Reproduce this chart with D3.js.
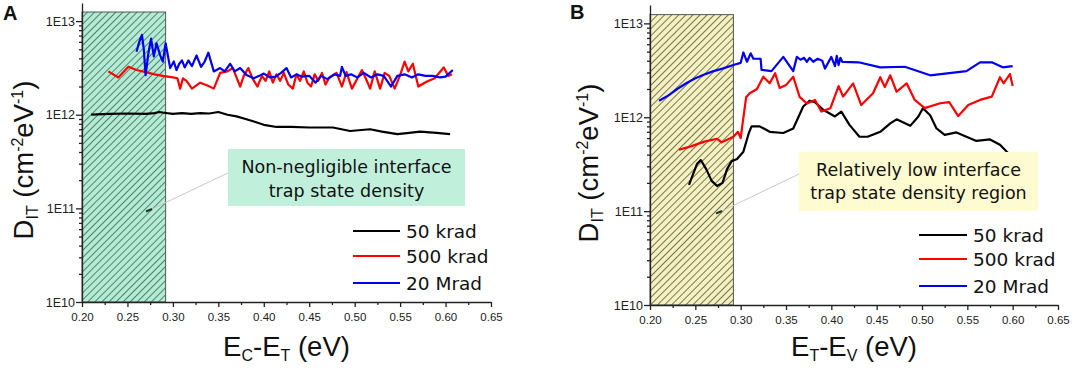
<!DOCTYPE html>
<html><head><meta charset="utf-8">
<script src="https://cdn.jsdelivr.net/npm/d3@7"></script>
<style>body{margin:0;background:#fff}svg{display:block}</style>
</head><body><svg id="c" width="1072" height="368"></svg>
<script>
// ---------------- data ----------------
const xTicks = [0.20,0.25,0.30,0.35,0.40,0.45,0.50,0.55,0.60,0.65];
const yTicks = [1e10,1e11,1e12,1e13];
const seriesNames = ["50 krad","500 krad","20 Mrad"];
const seriesColors = ["#000000","#ff0000","#0000ee"];
const hatchRange = [0.20, 0.292];

// Panel A: E_C - E_T
const a50krad = [[0.21,1.0e12],[0.23,1.02e12],[0.25,1.03e12],[0.27,1.02e12],[0.28,1.04e12],[0.285,1.07e12],[0.29,1.05e12],[0.30,1.02e12],[0.31,1.04e12],[0.32,1.02e12],[0.33,1.04e12],[0.34,1.03e12],[0.35,1.07e12],[0.36,1.0e12],[0.37,0.96e12],[0.38,0.9e12],[0.39,0.84e12],[0.40,0.78e12],[0.414,0.74e12],[0.43,0.74e12],[0.45,0.73e12],[0.476,0.73e12],[0.495,0.67e12],[0.517,0.70e12],[0.53,0.66e12],[0.547,0.62e12],[0.56,0.64e12],[0.572,0.66e12],[0.59,0.64e12],[0.605,0.62e12]];
const a500krad = [[0.229,2.9e12],[0.24,2.5e12],[0.251,3.25e12],[0.26,3.0e12],[0.27,2.85e12],[0.28,2.7e12],[0.289,2.6e12],[0.30,2.5e12],[0.305,2.45e12],[0.308,1.9e12],[0.311,2.45e12],[0.315,2.3e12],[0.321,1.9e12],[0.33,2.2e12],[0.338,2.05e12],[0.345,1.9e12],[0.352,2.8e12],[0.36,2.9e12],[0.366,3.15e12],[0.374,2.0e12],[0.378,2.6e12],[0.383,3.15e12],[0.388,2.4e12],[0.393,2.0e12],[0.398,2.6e12],[0.402,2.3e12],[0.406,2.9e12],[0.41,2.2e12],[0.414,2.7e12],[0.418,2.3e12],[0.422,2.8e12],[0.427,2.1e12],[0.432,1.9e12],[0.436,2.7e12],[0.44,2.3e12],[0.444,2.9e12],[0.448,2.2e12],[0.452,2.0e12],[0.456,2.7e12],[0.46,2.3e12],[0.464,2.8e12],[0.468,2.1e12],[0.472,2.5e12],[0.48,2.8e12],[0.486,2.0e12],[0.491,2.85e12],[0.497,1.9e12],[0.508,3.0e12],[0.513,2.35e12],[0.517,1.9e12],[0.522,2.9e12],[0.528,1.9e12],[0.533,2.8e12],[0.538,2.6e12],[0.544,1.9e12],[0.55,2.65e12],[0.555,3.7e12],[0.559,2.9e12],[0.564,3.5e12],[0.57,2.0e12],[0.579,2.25e12],[0.588,2.45e12],[0.598,3.2e12],[0.603,2.6e12],[0.607,2.7e12]];
const a20Mrad = [[0.26,4.7e12],[0.263,6.0e12],[0.266,7.1e12],[0.268,5.0e12],[0.27,2.65e12],[0.273,4.5e12],[0.276,6.5e12],[0.279,4.2e12],[0.282,5.8e12],[0.286,4.3e12],[0.289,3.7e12],[0.292,5.8e12],[0.297,3.15e12],[0.301,3.7e12],[0.304,3.0e12],[0.307,3.5e12],[0.31,3.8e12],[0.313,3.2e12],[0.317,3.8e12],[0.321,3.3e12],[0.326,4.3e12],[0.331,3.25e12],[0.335,3.7e12],[0.339,4.6e12],[0.345,2.9e12],[0.352,3.15e12],[0.357,2.9e12],[0.363,3.5e12],[0.368,2.9e12],[0.374,3.15e12],[0.381,2.65e12],[0.389,2.45e12],[0.395,2.6e12],[0.40,2.75e12],[0.407,2.5e12],[0.413,2.55e12],[0.419,2.8e12],[0.425,3.15e12],[0.43,2.5e12],[0.436,2.7e12],[0.442,2.55e12],[0.45,2.6e12],[0.457,2.2e12],[0.463,2.6e12],[0.47,2.4e12],[0.478,2.7e12],[0.484,2.6e12],[0.486,3.25e12],[0.49,2.6e12],[0.496,2.7e12],[0.503,2.5e12],[0.51,2.8e12],[0.518,2.5e12],[0.525,2.7e12],[0.532,2.6e12],[0.54,2.0e12],[0.547,2.6e12],[0.555,2.7e12],[0.563,2.5e12],[0.57,2.7e12],[0.578,2.6e12],[0.586,2.6e12],[0.594,2.5e12],[0.60,2.55e12],[0.608,3.0e12]];

// Panel B: E_T - E_V
const b50krad = [[0.243,1.9e11],[0.247,2.4e11],[0.252,3.2e11],[0.256,3.5e11],[0.262,2.8e11],[0.268,2.1e11],[0.274,1.85e11],[0.28,2.0e11],[0.285,2.8e11],[0.29,3.4e11],[0.296,3.6e11],[0.303,4.3e11],[0.309,6.8e11],[0.312,8.0e11],[0.321,8.0e11],[0.332,7.0e11],[0.347,6.8e11],[0.358,7.6e11],[0.369,1.3e12],[0.376,1.5e12],[0.382,1.45e12],[0.391,1.2e12],[0.404,1.02e12],[0.411,1.15e12],[0.42,8.3e11],[0.431,6.2e11],[0.44,6.2e11],[0.454,7.0e11],[0.465,8.6e11],[0.472,9.5e11],[0.487,8.1e11],[0.496,1.02e12],[0.501,1.25e12],[0.509,1.05e12],[0.516,7.6e11],[0.525,6.5e11],[0.538,6.9e11],[0.549,6.2e11],[0.56,5.6e11],[0.575,5.8e11],[0.586,5.1e11],[0.60,3.7e11]];
const b500krad = [[0.232,4.5e11],[0.245,4.9e11],[0.26,5.5e11],[0.274,5.9e11],[0.279,5.4e11],[0.292,6.2e11],[0.297,7.0e11],[0.30,6.0e11],[0.306,1.63e12],[0.31,1.8e12],[0.318,2.0e12],[0.325,2.7e12],[0.332,2.3e12],[0.338,2.95e12],[0.343,2.05e12],[0.35,2.2e12],[0.358,2.7e12],[0.365,1.65e12],[0.373,1.4e12],[0.382,1.53e12],[0.389,1.15e12],[0.399,1.25e12],[0.408,2.15e12],[0.413,1.66e12],[0.424,2.3e12],[0.433,1.35e12],[0.446,1.8e12],[0.454,2.67e12],[0.459,2.1e12],[0.465,2.8e12],[0.472,1.87e12],[0.483,2.3e12],[0.492,1.53e12],[0.503,1.25e12],[0.52,1.41e12],[0.53,1.45e12],[0.54,1.03e12],[0.551,1.35e12],[0.564,1.53e12],[0.577,1.66e12],[0.586,2.67e12],[0.59,2.3e12],[0.597,2.89e12],[0.60,2.15e12]];
const b20Mrad = [[0.21,1.5e12],[0.22,1.7e12],[0.23,2.0e12],[0.24,2.3e12],[0.25,2.6e12],[0.26,2.85e12],[0.27,3.1e12],[0.28,3.3e12],[0.292,3.6e12],[0.30,3.8e12],[0.303,4.9e12],[0.307,3.9e12],[0.311,4.8e12],[0.314,4.2e12],[0.322,4.2e12],[0.323,3.2e12],[0.334,3.1e12],[0.347,4.4e12],[0.358,3.1e12],[0.362,4.4e12],[0.366,4.1e12],[0.37,4.3e12],[0.373,3.9e12],[0.376,4.3e12],[0.38,3.9e12],[0.385,4.2e12],[0.39,4.0e12],[0.393,3.3e12],[0.40,4.4e12],[0.404,3.5e12],[0.406,4.5e12],[0.408,3.6e12],[0.41,4.3e12],[0.412,3.9e12],[0.43,3.85e12],[0.454,3.4e12],[0.481,3.45e12],[0.509,2.8e12],[0.549,3.1e12],[0.564,3.85e12],[0.577,3.85e12],[0.589,3.4e12],[0.60,3.5e12]];

const calloutA = ["Non-negligible interface","trap state density"];
const calloutB = ["Relatively low interface","trap state density region"];

// ---------------- drawing ----------------
const svg = d3.select("#c");
const defs = svg.append("defs");
function hatch(id, fill, stroke){
  const p = defs.append("pattern").attr("id",id).attr("patternUnits","userSpaceOnUse")
    .attr("width",5).attr("height",5).attr("patternTransform","rotate(45)");
  p.append("rect").attr("width",5).attr("height",5).attr("fill",fill);
  p.append("line").attr("x1",0).attr("y1",0).attr("x2",0).attr("y2",5).attr("stroke",stroke).attr("stroke-width",1.6);
}
hatch("hA","#b5ead5","#2f6b56");
hatch("hB","#f5f1c3","#55552e");

function panel(cfg){
  const g = svg.append("g");
  const x = d3.scaleLinear().domain([0.2,0.65]).range([cfg.x0,cfg.x1]);
  const y = d3.scaleLog().domain([1e10,cfg.ytop]).range([cfg.yb,cfg.yt]);

  // hatched region
  g.append("rect").attr("x",x(hatchRange[0])).attr("width",x(hatchRange[1])-x(hatchRange[0]))
    .attr("y",y(cfg.htop)).attr("height",y(1e10)-y(cfg.htop))
    .attr("fill","url(#"+cfg.hatch+")").attr("stroke","#555").attr("stroke-width",1);

  // axes
  const minors = [];
  for(let e=10;e<=13;e++) for(let m=2;m<=9;m++){const v=m*Math.pow(10,e); if(v<cfg.ytop) minors.push(v);}
  const yMinor = g.append("g").attr("transform",`translate(${cfg.x0},0)`)
    .call(d3.axisLeft(y).tickValues(minors).tickSize(3).tickFormat("").tickSizeOuter(0));
  yMinor.select(".domain").remove();
  const yAx = g.append("g").attr("transform",`translate(${cfg.x0},0)`)
    .call(d3.axisLeft(y).tickValues(yTicks).tickSize(6).tickPadding(1).tickSizeOuter(0)
      .tickFormat(d=>"1E"+Math.round(Math.log10(d))));
  yAx.selectAll("text").attr("font-family","Liberation Sans, Arial, sans-serif").attr("font-size",12.5).attr("fill","#222");
  const xMinor = d3.range(0.225,0.65,0.05);
  const xm = g.append("g").attr("transform",`translate(0,${cfg.yb})`)
    .call(d3.axisBottom(x).tickValues(xMinor).tickSize(3).tickFormat("").tickSizeOuter(0));
  xm.select(".domain").remove();
  const xAx = g.append("g").attr("transform",`translate(0,${cfg.yb})`)
    .call(d3.axisBottom(x).tickValues(xTicks).tickSize(5).tickPadding(6).tickSizeOuter(0).tickFormat(d3.format(".2f")));
  xAx.selectAll("text").attr("font-family","Liberation Sans, Arial, sans-serif").attr("font-size",11.5).attr("fill","#222");
  g.selectAll(".domain, .tick line").attr("stroke","#222").attr("stroke-width",1.3);

  // curves
  const line = d3.line().x(d=>x(d[0])).y(d=>y(d[1]));
  cfg.series.forEach((s,i)=>{
    g.append("path").datum(s).attr("d",line).attr("fill","none")
      .attr("stroke",seriesColors[i]).attr("stroke-width",2.2).attr("stroke-linejoin","round");
  });

  // callout pointer
  g.append("line").attr("x1",cfg.cb[0]).attr("y1",cfg.ptr[1]).attr("x2",cfg.ptr[0]).attr("y2",cfg.ptr[2])
    .attr("stroke","#c8c8c8").attr("stroke-width",1);
  g.append("line").attr("x1",cfg.ptr[0]-6).attr("y1",cfg.ptr[2]+2.5).attr("x2",cfg.ptr[0]).attr("y2",cfg.ptr[2])
    .attr("stroke","#1a3a2a").attr("stroke-width",2);

  // callout box
  g.append("rect").attr("x",cfg.cb[0]).attr("y",cfg.cb[1]).attr("width",cfg.cb[2]-cfg.cb[0]).attr("height",cfg.cb[3]-cfg.cb[1])
    .attr("fill",cfg.cfill);
  cfg.ctext.forEach((t,i)=>{
    g.append("text").attr("x",(cfg.cb[0]+cfg.cb[2])/2).attr("y",cfg.cbase[i]).attr("text-anchor","middle")
      .attr("font-family","DejaVu Sans, Verdana, sans-serif").attr("font-size",17.5).attr("fill","#111").text(t);
  });

  // legend
  seriesNames.forEach((n,i)=>{
    const ly = cfg.leg[2][i];
    g.append("line").attr("x1",cfg.leg[0]).attr("x2",cfg.leg[1]).attr("y1",ly).attr("y2",ly)
      .attr("stroke",seriesColors[i]).attr("stroke-width",2);
    g.append("text").attr("x",cfg.leg[1]+6).attr("y",ly).attr("dy","0.36em")
      .attr("font-family","DejaVu Sans, Verdana, sans-serif").attr("font-size",18.5).attr("fill","#111").text(n);
  });

  // axis titles
  const xt = g.append("text").attr("x",(cfg.x0+cfg.x1)/2).attr("y",356).attr("text-anchor","middle")
    .attr("font-family","Liberation Sans, Arial, sans-serif").attr("font-size",27.5).attr("fill","#111");
  xt.append("tspan").text("E");
  xt.append("tspan").attr("font-size",16).attr("baseline-shift","-30%").text(cfg.xsub[0]);
  xt.append("tspan").text("-E");
  xt.append("tspan").attr("font-size",16).attr("baseline-shift","-30%").text(cfg.xsub[1]);
  xt.append("tspan").text(" (eV)");

  const yt = g.append("text").attr("transform",`translate(${cfg.ytx},${cfg.yty}) rotate(-90)`).attr("text-anchor","middle")
    .attr("font-family","Liberation Sans, Arial, sans-serif").attr("font-size",27.5).attr("fill","#111");
  yt.append("tspan").text("D");
  yt.append("tspan").attr("font-size",16).attr("baseline-shift","-30%").text("IT");
  yt.append("tspan").text(" (cm");
  yt.append("tspan").attr("font-size",16).attr("baseline-shift","60%").text("-2");
  yt.append("tspan").text("eV");
  yt.append("tspan").attr("font-size",16).attr("baseline-shift","60%").text("-1");
  yt.append("tspan").text(")");

  svg.append("text").attr("x",cfg.lab[0]).attr("y",cfg.lab[1]).attr("font-family","Liberation Sans, Arial, sans-serif")
    .attr("font-weight","bold").attr("font-size",20).attr("fill","#111").text(cfg.label);
}

panel({x0:82,x1:491,yb:302,yt:3,ytop:1.56e13,htop:1.25e13,hatch:"hA",series:[a50krad,a500krad,a20Mrad],
  cb:[228,149,465,206],cfill:"#c0f0dc",ctext:calloutA,cbase:[173,197],ptr:[152,173,209],
  leg:[353,400,[231,256,283]],xsub:["C","T"],ytx:33,yty:160,label:"A",lab:[3,20]});
panel({x0:650,x1:1058,yb:305,yt:5,ytop:1.57e13,htop:1.24e13,hatch:"hB",series:[b50krad,b500krad,b20Mrad],
  cb:[799,152,1038,211],cfill:"#fdfbcf",ctext:calloutB,cbase:[176,199],ptr:[722,174,211],
  leg:[919,967,[235,259,286]],xsub:["T","V"],ytx:598,yty:163,label:"B",lab:[570,19]});
</script></body></html>
